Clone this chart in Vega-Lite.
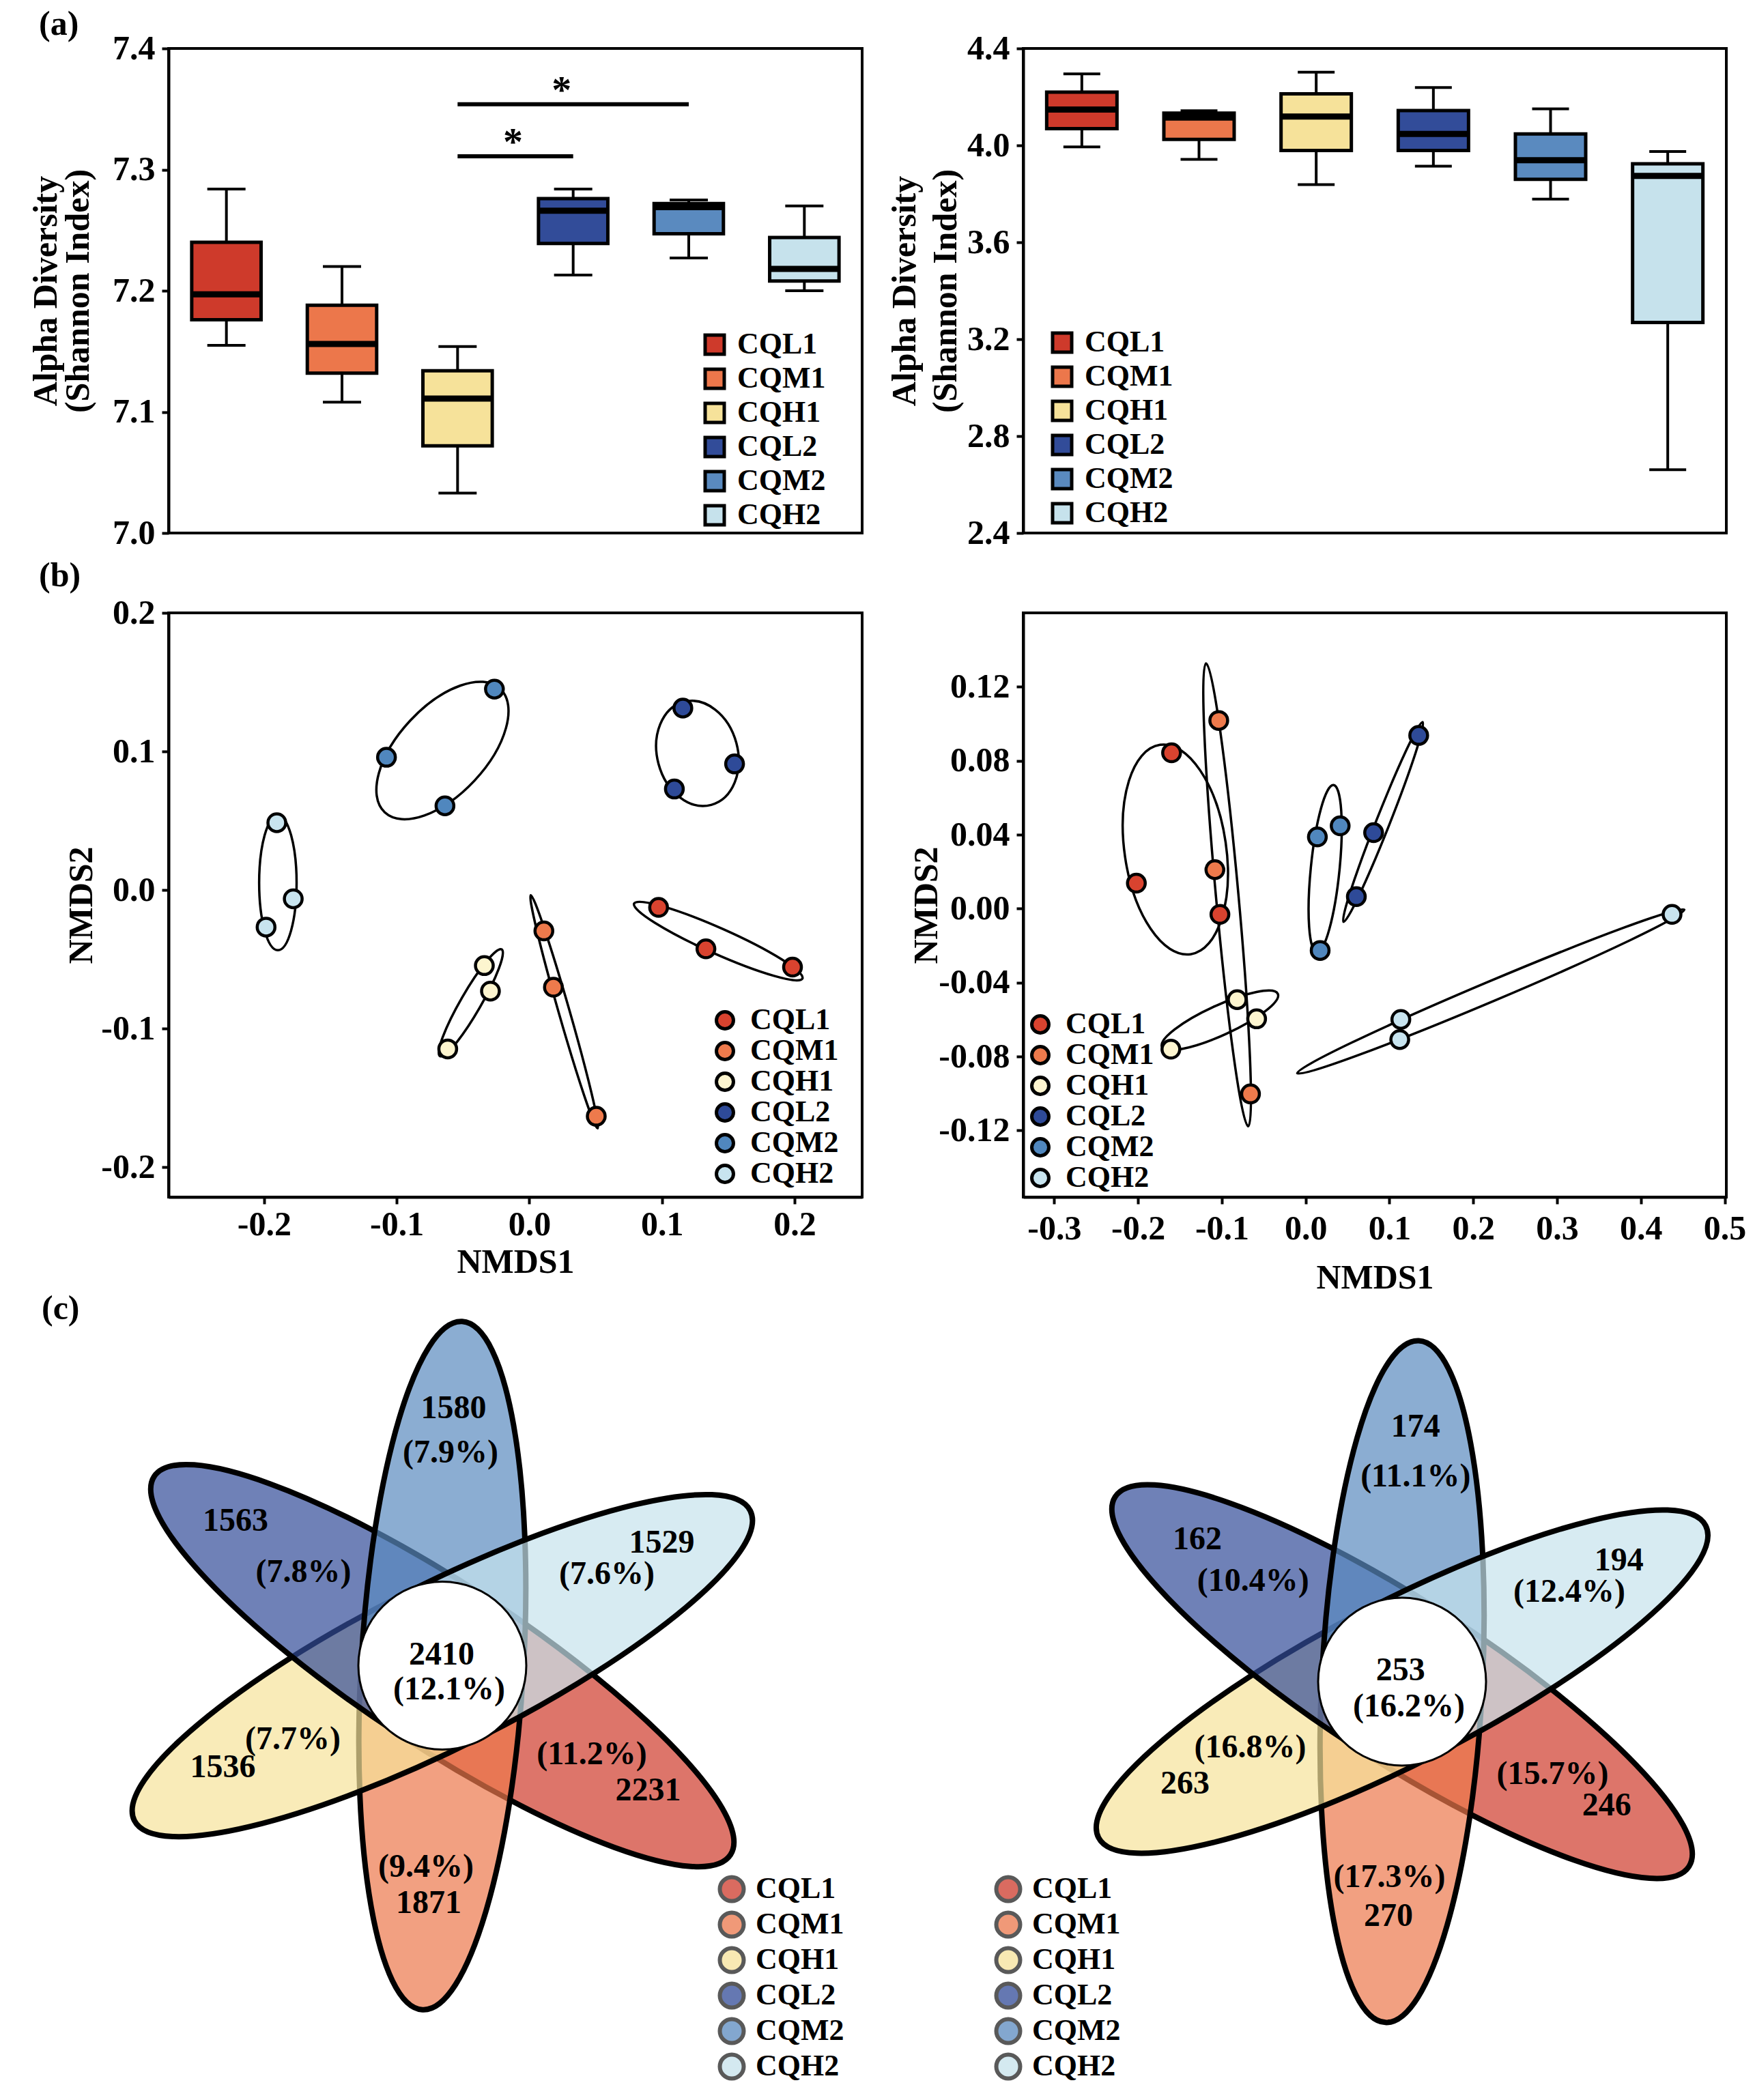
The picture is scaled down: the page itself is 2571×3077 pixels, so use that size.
{
  "$schema": "https://vega.github.io/schema/vega-lite/v6.json",
  "background": "white",
  "padding": {"left": 40, "top": 9, "right": 5, "bottom": 2},
  "config": {
    "font": "Liberation Serif",
    "view": {"stroke": "black", "strokeWidth": 4},
    "axis": {"labelFont": "Liberation Serif", "labelFontWeight": "bold", "labelFontSize": 50, "labelColor": "black", "titleFont": "Liberation Serif", "titleFontWeight": "bold", "titleFontSize": 50, "titleColor": "black", "tickColor": "black", "tickWidth": 4, "tickSize": 10, "domainColor": "black", "domainWidth": 4, "grid": false, "labelPadding": 10, "labelFlush": false, "labelOverlap": false, "labelBound": false},
    "legend": {"labelFont": "Liberation Serif", "labelFontWeight": "bold", "labelFontSize": 44, "labelColor": "black", "padding": 0, "labelLimit": 400},
    "title": {"font": "Liberation Serif", "fontWeight": "bold", "fontSize": 50, "color": "black", "anchor": "start", "frame": "group"}
  },
  "datasets": {
    "boxA1": [
      {"group": "CQL1", "lower": 7.155, "q1": 7.176, "median": 7.197, "q3": 7.240, "upper": 7.284},
      {"group": "CQM1", "lower": 7.108, "q1": 7.132, "median": 7.156, "q3": 7.188, "upper": 7.220},
      {"group": "CQH1", "lower": 7.033, "q1": 7.072, "median": 7.111, "q3": 7.134, "upper": 7.154},
      {"group": "CQL2", "lower": 7.213, "q1": 7.239, "median": 7.266, "q3": 7.276, "upper": 7.284},
      {"group": "CQM2", "lower": 7.227, "q1": 7.247, "median": 7.269, "q3": 7.272, "upper": 7.275},
      {"group": "CQH2", "lower": 7.200, "q1": 7.208, "median": 7.218, "q3": 7.244, "upper": 7.270}
    ],
    "boxA2": [
      {"group": "CQL1", "lower": 3.994, "q1": 4.069, "median": 4.148, "q3": 4.220, "upper": 4.295},
      {"group": "CQM1", "lower": 3.942, "q1": 4.025, "median": 4.115, "q3": 4.133, "upper": 4.143},
      {"group": "CQH1", "lower": 3.838, "q1": 3.979, "median": 4.119, "q3": 4.213, "upper": 4.302},
      {"group": "CQL2", "lower": 3.914, "q1": 3.979, "median": 4.047, "q3": 4.144, "upper": 4.239},
      {"group": "CQM2", "lower": 3.778, "q1": 3.860, "median": 3.939, "q3": 4.047, "upper": 4.151},
      {"group": "CQH2", "lower": 2.661, "q1": 3.269, "median": 3.874, "q3": 3.924, "upper": 3.975}
    ],
    "sigA1": [
      {"from": "CQH1", "to": "CQL2", "y": 7.311},
      {"from": "CQH1", "to": "CQM2", "y": 7.354}
    ],
    "ptsB1": [
      {"group": "CQL1", "x": 0.0975, "y": -0.0125}, {"group": "CQL1", "x": 0.1332, "y": -0.0424}, {"group": "CQL1", "x": 0.1985, "y": -0.0556},
      {"group": "CQM1", "x": 0.011, "y": -0.0295}, {"group": "CQM1", "x": 0.0182, "y": -0.0701}, {"group": "CQM1", "x": 0.0505, "y": -0.1632},
      {"group": "CQH1", "x": -0.0339, "y": -0.0545}, {"group": "CQH1", "x": -0.0293, "y": -0.0729}, {"group": "CQH1", "x": -0.0615, "y": -0.1146},
      {"group": "CQL2", "x": 0.1158, "y": 0.1313}, {"group": "CQL2", "x": 0.1548, "y": 0.091}, {"group": "CQL2", "x": 0.1094, "y": 0.0729},
      {"group": "CQM2", "x": -0.0263, "y": 0.145}, {"group": "CQM2", "x": -0.1077, "y": 0.0958}, {"group": "CQM2", "x": -0.0636, "y": 0.0608},
      {"group": "CQH2", "x": -0.1904, "y": 0.0486}, {"group": "CQH2", "x": -0.178, "y": -0.0063}, {"group": "CQH2", "x": -0.1985, "y": -0.0267}
    ],
    "ellB1": [
      {"ellipse": "ellipse CQL1", "x": 0.1425, "y": -0.0368, "major": 0.0695, "angle": 24},
      {"ellipse": "ellipse CQM1", "x": 0.0263, "y": -0.0878, "major": 0.0915, "angle": 74},
      {"ellipse": "ellipse CQH1", "x": -0.0441, "y": -0.0813, "major": 0.0465, "angle": 120},
      {"ellipse": "ellipse CQL2", "x": 0.1268, "y": 0.0986, "major": 0.0402, "angle": 75},
      {"ellipse": "ellipse CQM2", "x": -0.0655, "y": 0.1007, "major": 0.0638, "angle": 313},
      {"ellipse": "ellipse CQH2", "x": -0.1896, "y": 0.0052, "major": 0.0508, "angle": 90}
    ],
    "ptsB2": [
      {"group": "CQL1", "x": -0.160, "y": 0.0843}, {"group": "CQL1", "x": -0.202, "y": 0.0138}, {"group": "CQL1", "x": -0.1023, "y": -0.0031},
      {"group": "CQM1", "x": -0.1037, "y": 0.1018}, {"group": "CQM1", "x": -0.1083, "y": 0.0211}, {"group": "CQM1", "x": -0.0658, "y": -0.1002},
      {"group": "CQH1", "x": -0.0817, "y": -0.0492}, {"group": "CQH1", "x": -0.0585, "y": -0.0596}, {"group": "CQH1", "x": -0.1608, "y": -0.076},
      {"group": "CQL2", "x": 0.1349, "y": 0.0937}, {"group": "CQL2", "x": 0.0811, "y": 0.0411}, {"group": "CQL2", "x": 0.0605, "y": 0.0065},
      {"group": "CQM2", "x": 0.014, "y": 0.0388}, {"group": "CQM2", "x": 0.0412, "y": 0.0448}, {"group": "CQM2", "x": 0.0173, "y": -0.0226},
      {"group": "CQH2", "x": 0.4372, "y": -0.0031}, {"group": "CQH2", "x": 0.1136, "y": -0.0599}, {"group": "CQH2", "x": 0.1123, "y": -0.0708}
    ],
    "ellB2": [
      {"ellipse": "ellipse CQL1", "x": -0.1555, "y": 0.032, "major": 0.1263, "angle": 81.7},
      {"ellipse": "ellipse CQM1", "x": -0.0937, "y": 0.0075, "major": 0.2774, "angle": 84.8},
      {"ellipse": "ellipse CQH1", "x": -0.1023, "y": -0.0604, "major": 0.076, "angle": 335.4},
      {"ellipse": "ellipse CQL2", "x": 0.0924, "y": 0.0469, "major": 0.1282, "angle": 111.6},
      {"ellipse": "ellipse CQM2", "x": 0.0233, "y": 0.0216, "major": 0.1004, "angle": 95.7},
      {"ellipse": "ellipse CQH2", "x": 0.2209, "y": -0.0448, "major": 0.2507, "angle": 337.1}
    ],
    "petalsC1": [
      {"group": "CQL1", "x": 0, "y": 0, "angle": 33.3},
      {"group": "CQM1", "x": 0, "y": 0, "angle": 93.3},
      {"group": "CQH1", "x": 0, "y": 0, "angle": 153.3},
      {"group": "CQL2", "x": 0, "y": 0, "angle": 213.3},
      {"group": "CQM2", "x": 0, "y": 0, "angle": 273.3},
      {"group": "CQH2", "x": 0, "y": 0, "angle": 333.3}
    ],
    "petalsC2": [
      {"group": "CQL1", "x": 0, "y": 0, "angle": 32.8},
      {"group": "CQM1", "x": 0, "y": 0, "angle": 92.8},
      {"group": "CQH1", "x": 0, "y": 0, "angle": 152.8},
      {"group": "CQL2", "x": 0, "y": 0, "angle": 212.8},
      {"group": "CQM2", "x": 0, "y": 0, "angle": 272.8},
      {"group": "CQH2", "x": 0, "y": 0, "angle": 332.8}
    ],
    "labC1": [
      {"label": "1580", "x": 0.163, "y": 3.728}, {"label": "(7.9%)", "x": 0.119, "y": 3.084},
      {"label": "1563", "x": -3.0, "y": 2.094}, {"label": "(7.8%)", "x": -2.015, "y": 1.351},
      {"label": "1529", "x": 3.183, "y": 1.777}, {"label": "(7.6%)", "x": 2.386, "y": 1.322},
      {"label": "2410", "x": -0.01, "y": 0.153}, {"label": "(12.1%)", "x": 0.099, "y": -0.351},
      {"label": "(7.7%)", "x": -2.168, "y": -1.074}, {"label": "1536", "x": -3.183, "y": -1.48},
      {"label": "(11.2%)", "x": 2.168, "y": -1.292}, {"label": "2231", "x": 2.985, "y": -1.817},
      {"label": "(9.4%)", "x": -0.238, "y": -2.926}, {"label": "1871", "x": -0.198, "y": -3.45}
    ],
    "labC2": [
      {"label": "174", "x": 0.196, "y": 3.693}, {"label": "(11.1%)", "x": 0.196, "y": 2.97},
      {"label": "162", "x": -2.97, "y": 2.059}, {"label": "(10.4%)", "x": -2.162, "y": 1.455},
      {"label": "194", "x": 3.145, "y": 1.752}, {"label": "(12.4%)", "x": 2.426, "y": 1.297},
      {"label": "253", "x": -0.022, "y": 0.158}, {"label": "(16.2%)", "x": 0.099, "y": -0.366},
      {"label": "(16.8%)", "x": -2.203, "y": -0.96}, {"label": "263", "x": -3.149, "y": -1.485},
      {"label": "(15.7%)", "x": 2.184, "y": -1.347}, {"label": "246", "x": 2.967, "y": -1.802},
      {"label": "(17.3%)", "x": -0.183, "y": -2.842}, {"label": "270", "x": -0.198, "y": -3.406}
    ]
  },
  "columns": 2,
  "align": "each",
  "bounds": "flush",
  "spacing": {"row": 117, "column": 236},
  "resolve": {
    "scale": {"x": "independent", "y": "independent", "color": "independent", "fill": "independent", "shape": "independent", "size": "independent", "angle": "independent"},
    "legend": {"color": "independent", "fill": "independent"}
  },
  "concat": [
    {
      "width": 1016, "height": 710,
      "title": {"text": "(a)", "dx": -190, "offset": -55, "baseline": "alphabetic"},
      "data": {"name": "boxA1"},
      "layer": [
        {"mark": {"type": "rule", "color": "black", "strokeWidth": 4},
         "encoding": {
           "x": {"field": "group", "type": "nominal", "scale": {"domain": ["CQL1","CQM1","CQH1","CQL2","CQM2","CQH2"], "paddingInner": 0, "paddingOuter": 0}, "axis": null},
           "y": {"field": "lower", "type": "quantitative", "title": ["Alpha Diversity", "(Shannon Index)"], "scale": {"domain": [7.0, 7.4], "nice": false, "zero": false}, "axis": {"values": [7.0, 7.1, 7.2, 7.3, 7.4], "format": ".1f", "titlePadding": 25, "titleLineHeight": 47}},
           "y2": {"field": "upper"}}},
        {"mark": {"type": "tick", "color": "black", "thickness": 4, "size": 56, "opacity": 1},
         "encoding": {"x": {"field": "group", "type": "nominal"}, "y": {"field": "upper", "type": "quantitative", "title": ["Alpha Diversity", "(Shannon Index)"]}}},
        {"mark": {"type": "tick", "color": "black", "thickness": 4, "size": 56, "opacity": 1},
         "encoding": {"x": {"field": "group", "type": "nominal"}, "y": {"field": "lower", "type": "quantitative", "title": ["Alpha Diversity", "(Shannon Index)"]}}},
        {"mark": {"type": "bar", "stroke": "black", "strokeWidth": 5, "width": {"band": 0.6}, "opacity": 1},
         "encoding": {
           "x": {"field": "group", "type": "nominal"},
           "y": {"field": "q1", "type": "quantitative", "title": ["Alpha Diversity", "(Shannon Index)"]},
           "y2": {"field": "q3"},
           "color": {"field": "group", "type": "nominal", "scale": {"domain": ["CQL1","CQM1","CQH1","CQL2","CQM2","CQH2"], "range": ["#CE3A2B","#EC774B","#F6E29A","#324C99","#5A8ABF","#C6E2EC"]},
             "legend": {"orient": "none", "legendX": 778, "legendY": 412, "title": null, "symbolType": "square", "symbolSize": 784, "symbolStrokeColor": "black", "symbolStrokeWidth": 5, "rowPadding": 2, "labelOffset": 11}}}},
        {"mark": {"type": "tick", "color": "black", "thickness": 9, "size": 102, "opacity": 1},
         "encoding": {"x": {"field": "group", "type": "nominal"}, "y": {"field": "median", "type": "quantitative", "title": ["Alpha Diversity", "(Shannon Index)"]}}},
        {"data": {"name": "sigA1"},
         "mark": {"type": "rule", "color": "black", "strokeWidth": 6},
         "encoding": {"x": {"field": "from", "type": "nominal"}, "x2": {"field": "to"}, "y": {"field": "y", "type": "quantitative", "title": ["Alpha Diversity", "(Shannon Index)"]}}},
        {"data": {"values": [{"group": "CQL2", "y": 7.355, "star": "*"}]},
         "mark": {"type": "text", "font": "Liberation Serif", "fontWeight": "bold", "fontSize": 58, "baseline": "alphabetic", "color": "black"},
         "encoding": {"x": {"field": "group", "type": "nominal", "bandPosition": 0.4}, "y": {"field": "y", "type": "quantitative", "title": ["Alpha Diversity", "(Shannon Index)"]}, "text": {"field": "star"}}},
        {"data": {"values": [{"group": "CQH1", "y": 7.312, "star": "*"}]},
         "mark": {"type": "text", "font": "Liberation Serif", "fontWeight": "bold", "fontSize": 58, "baseline": "alphabetic", "color": "black"},
         "encoding": {"x": {"field": "group", "type": "nominal", "bandPosition": 0.98}, "y": {"field": "y", "type": "quantitative", "title": ["Alpha Diversity", "(Shannon Index)"]}, "text": {"field": "star"}}}
      ]
    },
    {
      "width": 1030, "height": 710,
      "data": {"name": "boxA2"},
      "layer": [
        {"mark": {"type": "rule", "color": "black", "strokeWidth": 4},
         "encoding": {
           "x": {"field": "group", "type": "nominal", "scale": {"domain": ["CQL1","CQM1","CQH1","CQL2","CQM2","CQH2"], "paddingInner": 0, "paddingOuter": 0}, "axis": null},
           "y": {"field": "lower", "type": "quantitative", "title": ["Alpha Diversity", "(Shannon Index)"], "scale": {"domain": [2.4, 4.4], "nice": false, "zero": false}, "axis": {"values": [2.4, 2.8, 3.2, 3.6, 4.0, 4.4], "format": ".1f", "titlePadding": 6, "titleLineHeight": 60}},
           "y2": {"field": "upper"}}},
        {"mark": {"type": "tick", "color": "black", "thickness": 4, "size": 54, "opacity": 1},
         "encoding": {"x": {"field": "group", "type": "nominal"}, "y": {"field": "upper", "type": "quantitative", "title": ["Alpha Diversity", "(Shannon Index)"]}}},
        {"mark": {"type": "tick", "color": "black", "thickness": 4, "size": 54, "opacity": 1},
         "encoding": {"x": {"field": "group", "type": "nominal"}, "y": {"field": "lower", "type": "quantitative", "title": ["Alpha Diversity", "(Shannon Index)"]}}},
        {"mark": {"type": "bar", "stroke": "black", "strokeWidth": 5, "width": {"band": 0.6}, "opacity": 1},
         "encoding": {
           "x": {"field": "group", "type": "nominal"},
           "y": {"field": "q1", "type": "quantitative", "title": ["Alpha Diversity", "(Shannon Index)"]},
           "y2": {"field": "q3"},
           "color": {"field": "group", "type": "nominal", "scale": {"domain": ["CQL1","CQM1","CQH1","CQL2","CQM2","CQH2"], "range": ["#CE3A2B","#EC774B","#F6E29A","#324C99","#5A8ABF","#C6E2EC"]},
             "legend": {"orient": "none", "legendX": 35, "legendY": 409, "title": null, "symbolType": "square", "symbolSize": 784, "symbolStrokeColor": "black", "symbolStrokeWidth": 5, "rowPadding": 2, "labelOffset": 11}}}},
        {"mark": {"type": "tick", "color": "black", "thickness": 9, "size": 104, "opacity": 1},
         "encoding": {"x": {"field": "group", "type": "nominal"}, "y": {"field": "median", "type": "quantitative", "title": ["Alpha Diversity", "(Shannon Index)"]}}}
      ]
    },
    {
      "width": 1016, "height": 856,
      "title": {"text": "(b)", "dx": -190, "offset": -36, "baseline": "alphabetic"},
      "layer": [
        {"data": {"name": "ellB1"},
         "mark": {"type": "point", "filled": false, "stroke": "black", "strokeWidth": 3.5, "opacity": 1},
         "encoding": {
           "x": {"field": "x", "type": "quantitative", "title": "NMDS1", "scale": {"domain": [-0.272, 0.251], "nice": false, "zero": false}, "axis": {"values": [-0.2, -0.1, 0, 0.1, 0.2], "format": ".1f", "labelExpr": "replace(datum.label, '\u2212', '-')", "labelPadding": 5, "titlePadding": 5}},
           "y": {"field": "y", "type": "quantitative", "title": "NMDS2", "scale": {"domain": [-0.2215, 0.2], "nice": false, "zero": false}, "axis": {"values": [-0.2, -0.1, 0, 0.1, 0.2], "format": ".1f", "labelExpr": "replace(datum.label, '\u2212', '-')", "titlePadding": 3}},
           "size": {"field": "major", "type": "quantitative", "scale": {"type": "pow", "exponent": 2, "domain": [0, 0.1], "range": [0, 150932]}, "legend": null},
           "shape": {"field": "ellipse", "type": "nominal", "scale": {"domain": ["ellipse CQL1","ellipse CQM1","ellipse CQH1","ellipse CQL2","ellipse CQM2","ellipse CQH2"], "range": [
             "M1,0C1,0.0773,0.5523,0.14,0,0.14C-0.5523,0.14,-1,0.0773,-1,0C-1,-0.0773,-0.5523,-0.14,0,-0.14C0.5523,-0.14,1,-0.0773,1,0Z",
             "M1,0C1,0.0249,0.5523,0.045,0,0.045C-0.5523,0.045,-1,0.0249,-1,0C-1,-0.0249,-0.5523,-0.045,0,-0.045C0.5523,-0.045,1,-0.0249,1,0Z",
             "M1,0C1,0.0911,0.5523,0.165,0,0.165C-0.5523,0.165,-1,0.0911,-1,0C-1,-0.0911,-0.5523,-0.165,0,-0.165C0.5523,-0.165,1,-0.0911,1,0Z",
             "M1,0C1,0.4175,0.5523,0.756,0,0.756C-0.5523,0.756,-1,0.4175,-1,0C-1,-0.4175,-0.5523,-0.756,0,-0.756C0.5523,-0.756,1,-0.4175,1,0Z",
             "M1,0C1,0.2872,0.5523,0.52,0,0.52C-0.5523,0.52,-1,0.2872,-1,0C-1,-0.2872,-0.5523,-0.52,0,-0.52C0.5523,-0.52,1,-0.2872,1,0Z",
             "M1,0C1,0.1535,0.5523,0.278,0,0.278C-0.5523,0.278,-1,0.1535,-1,0C-1,-0.1535,-0.5523,-0.278,0,-0.278C0.5523,-0.278,1,-0.1535,1,0Z"
           ]}, "legend": null},
           "angle": {"field": "angle", "type": "quantitative", "scale": null}
         }},
        {"data": {"name": "ptsB1"},
         "mark": {"type": "point", "shape": "circle", "filled": true, "size": 676, "stroke": "black", "strokeWidth": 4.5, "opacity": 1},
         "encoding": {
           "x": {"field": "x", "type": "quantitative", "title": "NMDS1"},
           "y": {"field": "y", "type": "quantitative", "title": "NMDS2"},
           "color": {"field": "group", "type": "nominal", "scale": {"domain": ["CQL1","CQM1","CQH1","CQL2","CQM2","CQH2"], "range": ["#D9432F","#EE7A4C","#FDF5CF","#2E4A98","#5087BE","#C8E4EF"]},
             "legend": {"orient": "none", "legendX": 793, "legendY": 575, "title": null, "symbolType": "circle", "symbolSize": 625, "symbolStrokeColor": "black", "symbolStrokeWidth": 5, "symbolOpacity": 1, "rowPadding": -9, "labelOffset": 15}}
         }}
      ]
    },
    {
      "width": 1030, "height": 856,
      "layer": [
        {"data": {"name": "ellB2"},
         "mark": {"type": "point", "filled": false, "stroke": "black", "strokeWidth": 3.5, "opacity": 1},
         "encoding": {
           "x": {"field": "x", "type": "quantitative", "title": "NMDS1", "scale": {"domain": [-0.337, 0.502], "nice": false, "zero": false}, "axis": {"values": [-0.3, -0.2, -0.1, 0, 0.1, 0.2, 0.3, 0.4, 0.5], "format": ".1f", "labelExpr": "replace(datum.label, '\u2212', '-')", "labelPadding": 11, "titlePadding": 22}},
           "y": {"field": "y", "type": "quantitative", "title": "NMDS2", "scale": {"domain": [-0.156, 0.16], "nice": false, "zero": false}, "axis": {"values": [-0.12, -0.08, -0.04, 0, 0.04, 0.08, 0.12], "format": ".2f", "labelExpr": "replace(datum.label, '\u2212', '-')", "titlePadding": -8}},
           "size": {"field": "major", "type": "quantitative", "scale": {"type": "pow", "exponent": 2, "domain": [0, 0.1], "range": [0, 60290]}, "legend": null},
           "shape": {"field": "ellipse", "type": "nominal", "scale": {"domain": ["ellipse CQL1","ellipse CQM1","ellipse CQH1","ellipse CQL2","ellipse CQM2","ellipse CQH2"], "range": [
             "M1,0C1,0.2651,0.5523,0.48,0,0.48C-0.5523,0.48,-1,0.2651,-1,0C-1,-0.2651,-0.5523,-0.48,0,-0.48C0.5523,-0.48,1,-0.2651,1,0Z",
             "M1,0C1,0.0268,0.5523,0.0485,0,0.0485C-0.5523,0.0485,-1,0.0268,-1,0C-1,-0.0268,-0.5523,-0.0485,0,-0.0485C0.5523,-0.0485,1,-0.0268,1,0Z",
             "M1,0C1,0.1292,0.5523,0.234,0,0.234C-0.5523,0.234,-1,0.1292,-1,0C-1,-0.1292,-0.5523,-0.234,0,-0.234C0.5523,-0.234,1,-0.1292,1,0Z",
             "M1,0C1,0.0348,0.5523,0.063,0,0.063C-0.5523,0.063,-1,0.0348,-1,0C-1,-0.0348,-0.5523,-0.063,0,-0.063C0.5523,-0.063,1,-0.0348,1,0Z",
             "M1,0C1,0.0944,0.5523,0.171,0,0.171C-0.5523,0.171,-1,0.0944,-1,0C-1,-0.0944,-0.5523,-0.171,0,-0.171C0.5523,-0.171,1,-0.0944,1,0Z",
             "M1,0C1,0.026,0.5523,0.047,0,0.047C-0.5523,0.047,-1,0.026,-1,0C-1,-0.026,-0.5523,-0.047,0,-0.047C0.5523,-0.047,1,-0.026,1,0Z"
           ]}, "legend": null},
           "angle": {"field": "angle", "type": "quantitative", "scale": null}
         }},
        {"data": {"name": "ptsB2"},
         "mark": {"type": "point", "shape": "circle", "filled": true, "size": 676, "stroke": "black", "strokeWidth": 4.5, "opacity": 1},
         "encoding": {
           "x": {"field": "x", "type": "quantitative", "title": "NMDS1"},
           "y": {"field": "y", "type": "quantitative", "title": "NMDS2"},
           "color": {"field": "group", "type": "nominal", "scale": {"domain": ["CQL1","CQM1","CQH1","CQL2","CQM2","CQH2"], "range": ["#D9432F","#EE7A4C","#FDF5CF","#2E4A98","#5087BE","#C8E4EF"]},
             "legend": {"orient": "none", "legendX": 3, "legendY": 581, "title": null, "symbolType": "circle", "symbolSize": 625, "symbolStrokeColor": "black", "symbolStrokeWidth": 5, "symbolOpacity": 1, "rowPadding": -8, "labelOffset": 15}}
         }}
      ]
    },
    {
      "width": 1016, "height": 1195,
      "view": {"stroke": null},
      "title": {"text": "(c)", "dx": -186, "offset": -112, "baseline": "alphabetic"},
      "layer": [
        {"data": {"name": "petalsC1"},
         "mark": {"type": "point", "shape": "M0,-0.2356C0.5523,-0.2356,1,-0.1301,1,0C1,0.1301,0.5523,0.2356,0,0.2356Z", "filled": true, "size": 1020100, "fillOpacity": 0.7, "strokeOpacity": 1, "stroke": "black", "strokeWidth": 8, "strokeJoin": "round", "opacity": 1},
         "encoding": {
           "x": {"field": "x", "type": "quantitative", "scale": {"domain": [-3.970, 6.089], "nice": false, "zero": false}, "axis": null},
           "y": {"field": "y", "type": "quantitative", "scale": {"domain": [-6.193, 5.639], "nice": false, "zero": false}, "axis": null},
           "angle": {"field": "angle", "type": "quantitative", "scale": null},
           "fill": {"field": "group", "type": "nominal", "scale": {"domain": ["CQL1","CQM1","CQH1","CQL2","CQM2","CQH2"], "range": ["#CE3A2B","#EC774B","#F6E29A","#324C99","#5A8ABF","#C6E2EC"]},
             "legend": {"orient": "none", "legendX": 803, "legendY": 875, "title": null, "symbolType": "circle", "symbolSize": 1225, "symbolStrokeColor": "#222222", "symbolStrokeWidth": 6, "symbolOpacity": 0.75, "rowPadding": -12, "labelOffset": 13}}
         }},
        {"data": {"values": [{"x": 0, "y": 0}]},
         "mark": {"type": "point", "shape": "circle", "filled": true, "fill": "white", "size": 60516, "stroke": "black", "strokeWidth": 3, "opacity": 1},
         "encoding": {"x": {"field": "x", "type": "quantitative"}, "y": {"field": "y", "type": "quantitative"}}},
        {"data": {"name": "labC1"},
         "mark": {"type": "text", "font": "Liberation Serif", "fontWeight": "bold", "fontSize": 48, "color": "black"},
         "encoding": {"x": {"field": "x", "type": "quantitative"}, "y": {"field": "y", "type": "quantitative"}, "text": {"field": "label"}}}
      ]
    },
    {
      "width": 1030, "height": 1195,
      "view": {"stroke": null},
      "layer": [
        {"data": {"name": "petalsC2"},
         "mark": {"type": "point", "shape": "M0,-0.2356C0.5523,-0.2356,1,-0.1301,1,0C1,0.1301,0.5523,0.2356,0,0.2356Z", "filled": true, "size": 1000000, "fillOpacity": 0.7, "strokeOpacity": 1, "stroke": "black", "strokeWidth": 8, "strokeJoin": "round", "opacity": 1},
         "encoding": {
           "x": {"field": "x", "type": "quantitative", "scale": {"domain": [-5.495, 4.703], "nice": false, "zero": false}, "axis": null},
           "y": {"field": "y", "type": "quantitative", "scale": {"domain": [-5.961, 5.871], "nice": false, "zero": false}, "axis": null},
           "angle": {"field": "angle", "type": "quantitative", "scale": null},
           "fill": {"field": "group", "type": "nominal", "scale": {"domain": ["CQL1","CQM1","CQH1","CQL2","CQM2","CQH2"], "range": ["#CE3A2B","#EC774B","#F6E29A","#324C99","#5A8ABF","#C6E2EC"]},
             "legend": {"orient": "none", "legendX": -44, "legendY": 875, "title": null, "symbolType": "circle", "symbolSize": 1225, "symbolStrokeColor": "#222222", "symbolStrokeWidth": 6, "symbolOpacity": 0.75, "rowPadding": -12, "labelOffset": 13}}
         }},
        {"data": {"values": [{"x": 0, "y": 0}]},
         "mark": {"type": "point", "shape": "circle", "filled": true, "fill": "white", "size": 60516, "stroke": "black", "strokeWidth": 3, "opacity": 1},
         "encoding": {"x": {"field": "x", "type": "quantitative"}, "y": {"field": "y", "type": "quantitative"}}},
        {"data": {"name": "labC2"},
         "mark": {"type": "text", "font": "Liberation Serif", "fontWeight": "bold", "fontSize": 48, "color": "black"},
         "encoding": {"x": {"field": "x", "type": "quantitative"}, "y": {"field": "y", "type": "quantitative"}, "text": {"field": "label"}}}
      ]
    }
  ]
}
